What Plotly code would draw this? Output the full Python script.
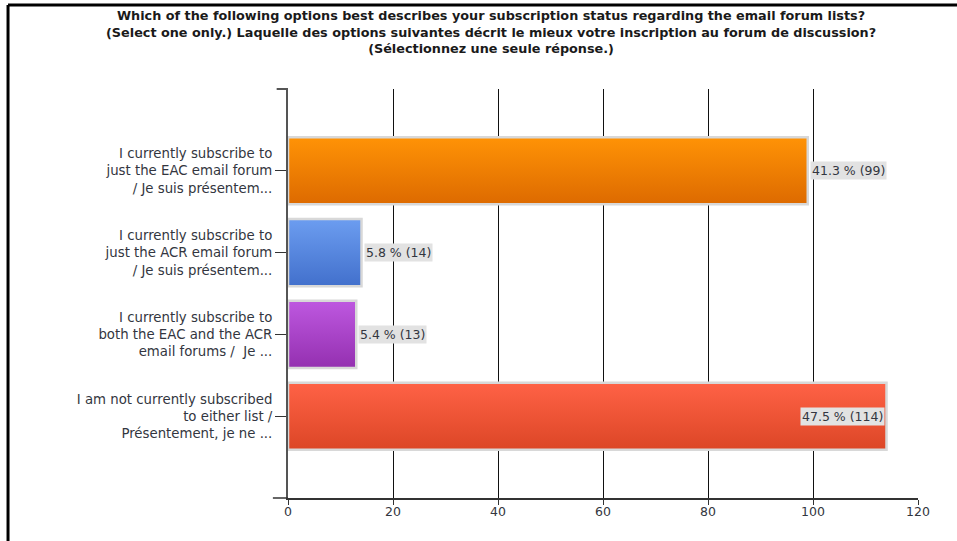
import plotly.graph_objects as go

# Survey responses (n = 240)
categories = [
    "I currently subscribe to<br>just the EAC email forum<br>/ Je suis présentem...",
    "I currently subscribe to<br>just the ACR email forum<br>/ Je suis présentem...",
    "I currently subscribe to<br>both the EAC and the ACR<br>email forums /  Je ...",
    "I am not currently subscribed<br>to either list /<br>Présentement, je ne ...",
]
counts = [99, 14, 13, 114]
percents = [41.3, 5.8, 5.4, 47.5]
# (top, bottom) gradient colours per bar
bar_colors = [
    ("#FF9306", "#DD6A00"),
    ("#6C9DF0", "#4270CC"),
    ("#BE58E0", "#9430B0"),
    ("#FF6246", "#DC4626"),
]
x_ticks = [0, 20, 40, 60, 80, 100, 120]

title_text = ("<b>Which of the following options best describes your subscription status regarding the email forum lists?<br>"
              "(Select one only.) Laquelle des options suivantes décrit le mieux votre inscription au forum de discussion?<br>"
              "(Sélectionnez une seule réponse.)</b>")

FONT = "DejaVu Sans, Verdana, sans-serif"
BAR_H = 0.82

n = len(categories)
ypos = [n - 1 - i for i in range(n)]

fig = go.Figure()

for y, v, (c_top, c_bot) in zip(ypos, counts, bar_colors):
    y0, y1 = y - BAR_H / 2, y + BAR_H / 2
    fig.add_trace(go.Scatter(
        x=[0, v, v, 0, 0],
        y=[y0, y0, y1, y1, y0],
        mode="lines",
        fill="toself",
        fillgradient=dict(type="vertical", colorscale=[[0, c_bot], [1, c_top]]),
        line=dict(color="#D8D8D8", width=2.5),
        hoverinfo="skip",
        showlegend=False,
    ))

annotations = [
    dict(x=0.322, y=1.139, xref="paper", yref="paper", text=title_text,
         showarrow=False, xanchor="center", yanchor="middle", align="center",
         font=dict(family=FONT, size=12.8, color="#1A1A1A")),
]
for y, v, p in zip(ypos, counts, percents):
    inside = v > 105
    annotations.append(dict(
        x=v, y=y, xref="x", yref="y",
        text=f"{p} % ({v})",
        showarrow=False,
        xanchor="right" if inside else "left",
        xshift=-2 if inside else 2,
        font=dict(family=FONT, size=12.5, color="#333640"),
        bgcolor="#E2E2E2",
        borderpad=1,
    ))

shapes = [
    # outer frame (left and top edges)
    dict(type="line", xref="paper", yref="paper", x0=-0.4444, x1=1.1, y0=1.2054, y1=1.2054,
         line=dict(color="black", width=3)),
    dict(type="line", xref="paper", yref="paper", x0=-0.4444, x1=-0.4444, y0=1.2054, y1=-0.12,
         line=dict(color="black", width=3)),
    # axis stubs at the top and bottom of the category axis
    dict(type="line", xref="paper", yref="paper", x0=-0.018, x1=0, y0=1, y1=1,
         line=dict(color="#555555", width=2)),
    dict(type="line", xref="paper", yref="paper", x0=-0.024, x1=0, y0=0, y1=0,
         line=dict(color="#333333", width=1.5)),
]

fig.update_layout(
    width=957, height=541,
    margin=dict(l=288, r=39, t=89, b=43),
    paper_bgcolor="white", plot_bgcolor="white",
    font=dict(family=FONT, size=12, color="#333333"),
    annotations=annotations,
    shapes=shapes,
    xaxis=dict(
        range=[0, 120], tickvals=x_ticks, ticks="outside", ticklen=5, tickcolor="#333333",
        showgrid=True, gridcolor="#111111", gridwidth=1,
        showline=True, linecolor="#333333", linewidth=1.5,
        zeroline=False, tickfont=dict(family=FONT, size=12.5, color="#333640"),
        ticklabelstandoff=-4,
        fixedrange=True,
    ),
    yaxis=dict(
        range=[-1, 4], tickvals=ypos, ticktext=categories,
        ticks="outside", ticklen=11, tickcolor="#333333",
        showgrid=False, zeroline=False,
        showline=True, linecolor="#555555", linewidth=2,
        tickfont=dict(family=FONT, size=13.3, color="#333640"),
        fixedrange=True,
    ),
)

fig.write_html("out.html")
